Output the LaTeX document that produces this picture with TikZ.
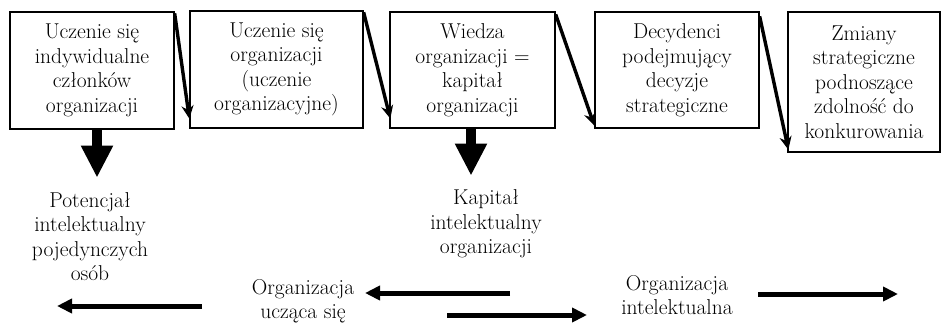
\documentclass[tikz,border=0pt]{standalone}
\usepackage{fontspec}
\usetikzlibrary{arrows.meta,calc}
\begin{document}
\begin{tikzpicture}[x=1pt,y=-1pt,
  txt/.style={align=center,inner sep=0pt,font=\rmfamily\fontsize{21.5}{24.5}\selectfont},
  box/.style={txt,draw,line width=1.3pt},
  diag/.style={line width=3.4pt,-{Stealth[length=13pt,width=12pt]}},
  fat/.style={line width=10pt,-{Triangle[length=32pt,width=30pt]}},
  flow/.style={line width=5pt,-{Triangle[length=15pt,width=14pt]}}]
\useasboundingbox (0,0) rectangle (944,322);
% boxes
\node[box,minimum width=164pt,minimum height=117pt] (b1) at (92,70.5)
  {Uczenie się\\indywidualne\\członków\\organizacji};
\node[box,minimum width=173pt,minimum height=117pt] (b2) at (276.5,69.5)
  {Uczenie się\\organizacji\\(uczenie\\organizacyjne)};
\node[box,minimum width=165pt,minimum height=116pt] (b3) at (472.5,70)
  {Wiedza\\organizacji =\\kapitał\\organizacji};
\node[box,minimum width=164pt,minimum height=116pt] (b4) at (677,70)
  {Decydenci\\podejmujący\\decyzje\\strategiczne};
\node[box,minimum width=152pt,minimum height=140pt] (b5) at (864,82)
  {Zmiany\\strategiczne\\podnoszące\\zdolność do\\konkurowania};
% diagonal connectors
\draw[diag] ($(b1.north east)+(0,2)$) -- ($(b2.south west)+(0,-10)$);
\draw[diag] ($(b2.north east)+(0,2)$) -- ($(b3.south west)+(1,-10)$);
\draw[diag] ($(b3.north east)+(0,3)$) -- ($(b4.south west)+(0,-3)$);
\draw[diag] ($(b4.north east)+(0,5)$) -- ($(b5.south west)+(1,-3)$);
% lower texts
\node[txt] (p1) at (90,236.5) {Potencjał\\intelektualny\\pojedynczych\\osób};
\node[txt] (k1) at (486,224) {Kapitał\\intelektualny\\organizacji};
\node[txt] (ou) at (303,301) {Organizacja\\ucząca się};
\node[txt] (oi) at (677,295) {Organizacja\\intelektualna};
% fat down arrows
\draw[fat] ($(b1.south)+(5,0)$) -- ($(b1.south)+(5,48)$);
\draw[fat] ($(b3.south)+(-1.5,0)$) -- ($(b3.south)+(-1.5,47)$);
% bottom flow arrows
\coordinate (a1s) at (202,306);
\coordinate (a1e) at (57,306);
\coordinate (a2s) at (510,293);
\coordinate (a2e) at (365,293);
\coordinate (a3s) at (447,315);
\coordinate (a3e) at (587,315);
\coordinate (a4s) at (758,294);
\coordinate (a4e) at (898,294);
\draw[flow] (a1s) -- (a1e);
\draw[flow] (a2s) -- (a2e);
\draw[flow] (a3s) -- (a3e);
\draw[flow] (a4s) -- (a4e);
\end{tikzpicture}
\end{document}
